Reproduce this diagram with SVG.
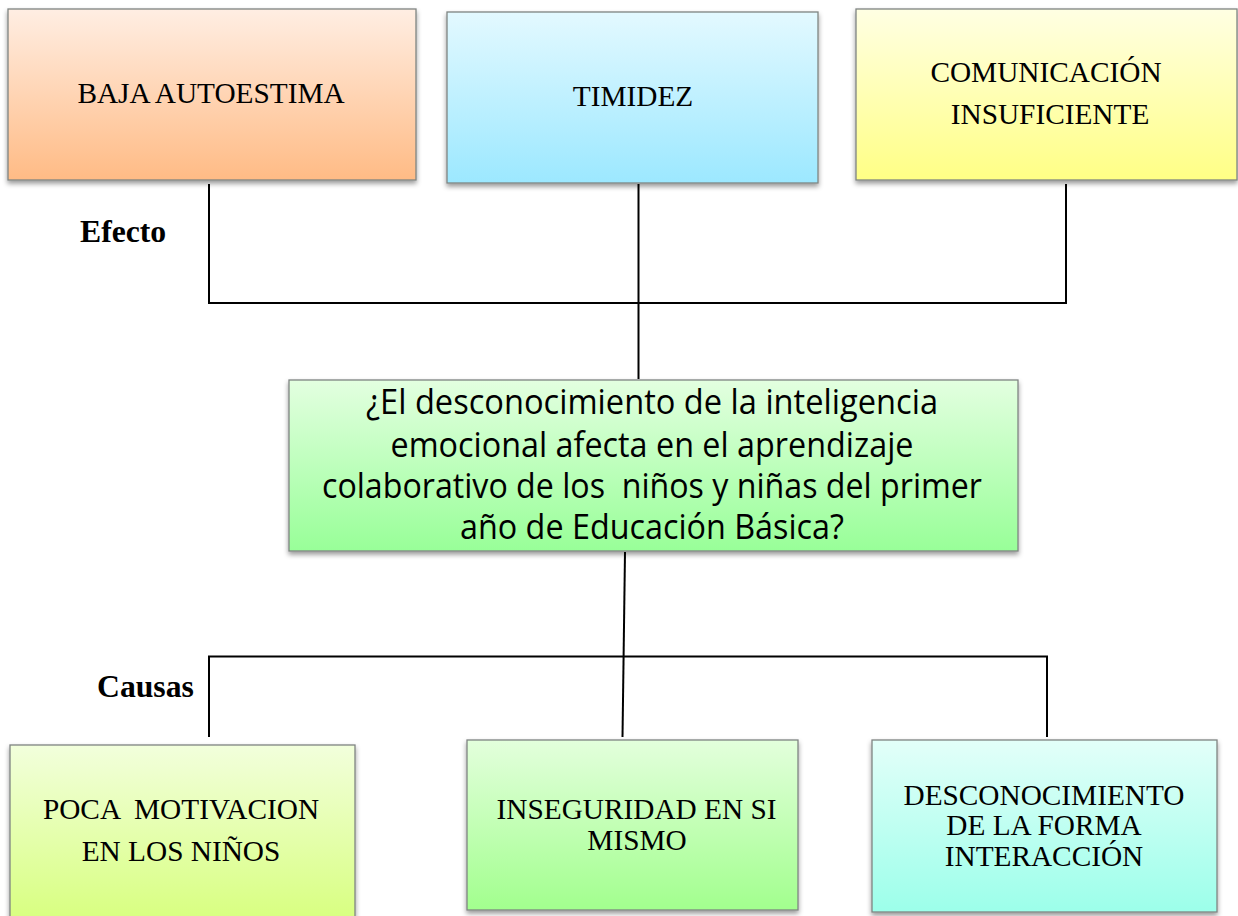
<svg xmlns="http://www.w3.org/2000/svg" width="1238" height="916" viewBox="0 0 1238 916">
<defs>
<linearGradient id="gOrange" x1="0" y1="0" x2="0" y2="1"><stop offset="0" stop-color="#ffeee3"/><stop offset="1" stop-color="#ffbb85"/></linearGradient>
<linearGradient id="gBlue" x1="0" y1="0" x2="0" y2="1"><stop offset="0" stop-color="#e3f9ff"/><stop offset="1" stop-color="#9ce8ff"/></linearGradient>
<linearGradient id="gYellow" x1="0" y1="0" x2="0" y2="1"><stop offset="0" stop-color="#ffffe3"/><stop offset="1" stop-color="#ffff85"/></linearGradient>
<linearGradient id="gGreen" x1="0" y1="0" x2="0" y2="1"><stop offset="0" stop-color="#e3ffe0"/><stop offset="1" stop-color="#98ff98"/></linearGradient>
<linearGradient id="gLime" x1="0" y1="0" x2="0" y2="1"><stop offset="0" stop-color="#f2ffdc"/><stop offset="1" stop-color="#d8ff80"/></linearGradient>
<linearGradient id="gGreen2" x1="0" y1="0" x2="0" y2="1"><stop offset="0" stop-color="#e3ffdc"/><stop offset="1" stop-color="#a2ff8e"/></linearGradient>
<linearGradient id="gAqua" x1="0" y1="0" x2="0" y2="1"><stop offset="0" stop-color="#e3fff9"/><stop offset="1" stop-color="#9cffea"/></linearGradient>
<filter id="shadow" x="-5%" y="-5%" width="110%" height="115%"><feDropShadow dx="0" dy="3" stdDeviation="2.5" flood-color="#000" flood-opacity="0.4"/></filter>
</defs>
<style>
.box{stroke:#7f8482;stroke-width:1.3;filter:url(#shadow)}
text{white-space:pre}
.t{font-family:"Liberation Serif","Times New Roman",serif;font-size:29.300px;fill:#000;text-anchor:middle}
.b{font-family:"Liberation Serif","Times New Roman",serif;font-size:31.700px;font-weight:bold;fill:#000}
.c{font-family:"Open Sans","Noto Sans",sans-serif;font-size:35px;fill:#000;text-anchor:middle}
.l{fill:none;stroke:#000;stroke-width:2}
</style>
<rect width="1238" height="916" fill="#fff"/>
<g id="connectors">
<path class="l" d="M209 184V303H1066V184"/>
<path class="l" d="M638.500 184V379"/>
<path class="l" d="M625 552L622.500 737"/>
<path class="l" d="M209 737V656.500H1047V737"/>
</g>
<g id="n-baja"><rect class="box" x="8" y="9" width="408" height="171" fill="url(#gOrange)"/><text class="t" x="211" y="103">BAJA AUTOESTIMA</text></g>
<g id="n-timidez"><rect class="box" x="447" y="12" width="371" height="171" fill="url(#gBlue)"/><text class="t" x="633" y="106">TIMIDEZ</text></g>
<g id="n-comunicacion"><rect class="box" x="856" y="9" width="381" height="171" fill="url(#gYellow)"/><text class="t" x="1046" y="82">COMUNICACIÓN</text><text class="t" x="1050" y="124">INSUFICIENTE</text></g>
<g id="n-pregunta"><rect class="box" x="289" y="380" width="729" height="171" fill="url(#gGreen)"/>
<text class="c" x="652" y="414" textLength="572" lengthAdjust="spacingAndGlyphs">¿El desconocimiento de la inteligencia</text>
<text class="c" x="652" y="457" textLength="523" lengthAdjust="spacingAndGlyphs">emocional afecta en el aprendizaje</text>
<text class="c" x="652" y="498" textLength="660" lengthAdjust="spacingAndGlyphs">colaborativo de los  niños y niñas del primer</text>
<text class="c" x="652" y="539" textLength="384" lengthAdjust="spacingAndGlyphs">año de Educación Básica?</text></g>
<g id="n-poca"><rect class="box" x="10" y="745" width="345" height="175" fill="url(#gLime)"/><text class="t" x="181" y="819">POCA  MOTIVACION</text><text class="t" x="181" y="861">EN LOS NIÑOS</text></g>
<g id="n-inseguridad"><rect class="box" x="467" y="740" width="331" height="170" fill="url(#gGreen2)"/><text class="t" x="636.500" y="819">INSEGURIDAD EN SI</text><text class="t" x="637" y="850">MISMO</text></g>
<g id="n-desconocimiento"><rect class="box" x="872" y="740" width="345" height="172" fill="url(#gAqua)"/><text class="t" x="1044" y="805">DESCONOCIMIENTO</text><text class="t" x="1044" y="835">DE LA FORMA</text><text class="t" x="1044" y="866">INTERACCIÓN</text></g>
<text id="lbl-efecto" class="b" x="80" y="242">Efecto</text>
<text id="lbl-causas" class="b" x="97" y="697">Causas</text>
</svg>
